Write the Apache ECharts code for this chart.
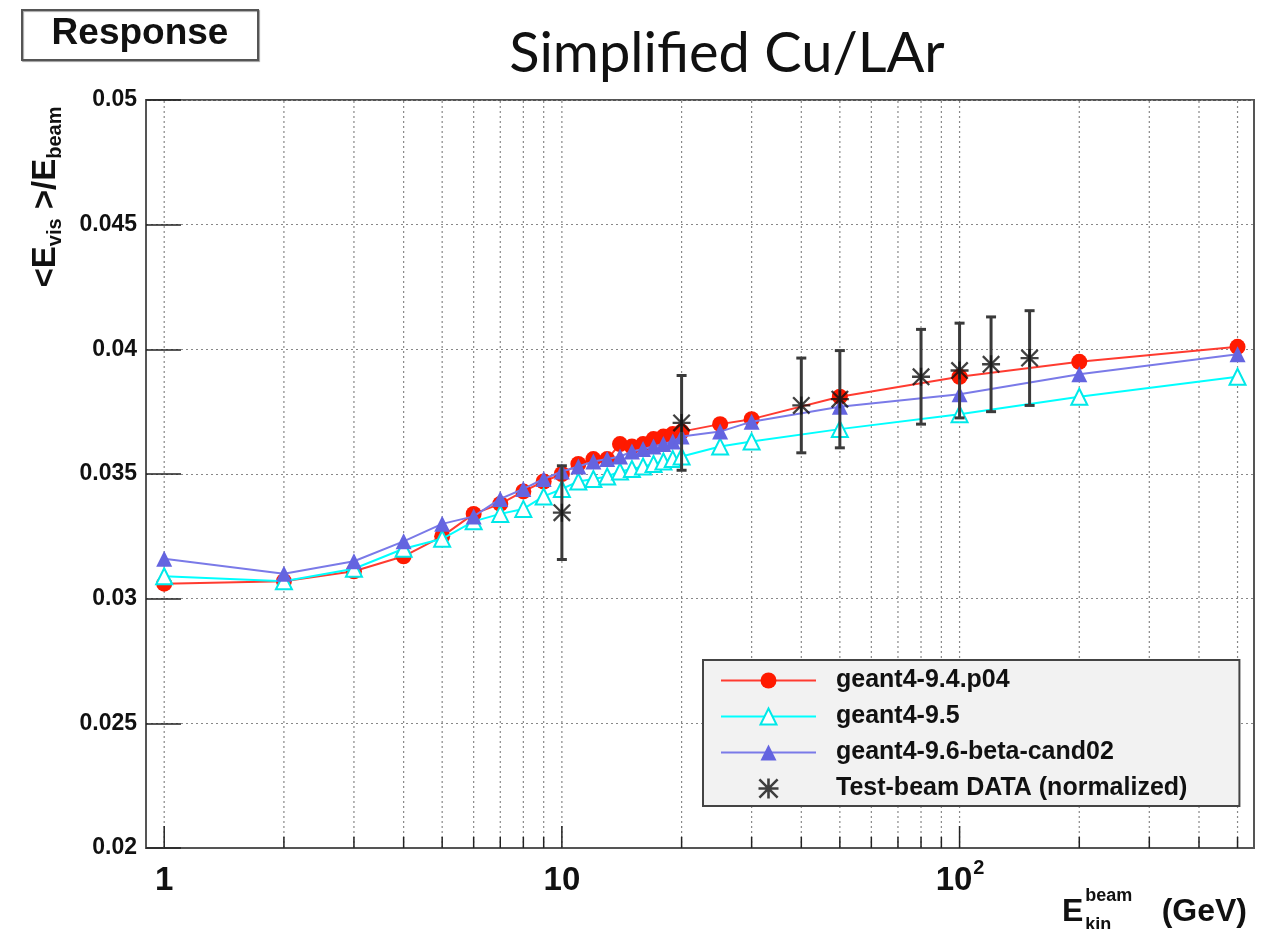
<!DOCTYPE html>
<html><head><meta charset="utf-8">
<script src="https://cdn.jsdelivr.net/npm/echarts@6/dist/echarts.min.js"></script>
<style>html,body{margin:0;padding:0;background:#fff}#c{width:1271px;height:929px}</style>
</head><body><div id="c"></div>
<script>
// ---- data ----
const ENERGIES = [1,2,3,4,5,6,7,8,9,10,11,12,13,14,15,16,17,18,19,20,25,30,50,100,200,500];
const G4_94 = [0.0306,0.0307,0.0311,0.0317,0.0325,0.0334,0.0338,0.0343,0.0347,0.0350,0.0354,0.0356,0.0356,0.0362,0.0361,0.0362,0.0364,0.0365,0.0366,0.0367,0.0370,0.0372,0.0381,0.0389,0.0395,0.0401];
const G4_95 = [0.0309,0.0307,0.0312,0.0320,0.0324,0.0331,0.0334,0.0336,0.0341,0.0344,0.0347,0.0348,0.0349,0.0351,0.0352,0.0353,0.0354,0.0355,0.0356,0.0357,0.0361,0.0363,0.0368,0.0374,0.0381,0.0389];
const G4_96 = [0.0316,0.0310,0.0315,0.0323,0.0330,0.0333,0.0340,0.0344,0.0348,0.0351,0.0353,0.0355,0.0356,0.0357,0.0359,0.0360,0.0361,0.0362,0.0363,0.0365,0.0367,0.0371,0.0377,0.0382,0.0390,0.0398];
const DATA_E = [10,20,40,50,80,100,120,150];
const DATA_V = [0.03345,0.03705,0.03775,0.0380,0.0389,0.03915,0.0394,0.03965];
const DATA_ERR = [0.00188,0.0019,0.0019,0.00195,0.0019,0.0019,0.0019,0.0019];
const SERIES_NAMES = ['geant4-9.4.p04','geant4-9.5','geant4-9.6-beta-cand02','Test-beam DATA (normalized)'];
const X_TICKS = [1,2,3,4,5,6,7,8,9,10,20,30,40,50,60,70,80,90,100,200,300,400,500];
const X_MAJOR = [1,10,100];
const X_LABEL_BASE = ['1','10','10'];
const X_LABEL_EXP = ['','','2'];
const X_MIN = 0.9, X_MAX = 550;
const Y_MIN = 0.02, Y_MAX = 0.05, Y_STEP = 0.005;

const FONT = '"Liberation Sans", Arial, Helvetica, sans-serif';
const STAR = 'path://M8.7,0L11.3,0L11.3,20L8.7,20Z M0,8.7L20,8.7L20,11.3L0,11.3Z M1.8,0L20,18.2L18.2,20L0,1.8Z M18.2,0L20,1.8L1.8,20L0,18.2Z M7,7L13,7L13,13L7,13Z';

function tw(text, font){
  const c = document.createElement('canvas').getContext('2d');
  c.font = font; return c.measureText(text).width;
}

const chart = echarts.init(document.getElementById('c'), null, {renderer:'canvas'});

// y-axis title pieces (rotated)
const MAINF = 33, SUBF = 20;
const yPieces = [['<E', MAINF], ['vis', SUBF], [' >/E', MAINF], ['beam', SUBF]];
let yChildren = [], acc = 0;
yPieces.forEach(([t, fs]) => {
  const sub = fs === SUBF;
  yChildren.push({type:'text', x: acc, y: sub ? 6 - 0.32*fs : -0.32*fs,
    style:{text:t, font:'bold '+fs+'px '+FONT, fill:'#111', textAlign:'left', textVerticalAlign:'middle', verticalAlign:'middle'}});
  acc += tw(t, 'bold '+fs+'px '+FONT);
});
const yTitleStart = 197 + acc/2;

// x-axis title
const eW = tw('E', 'bold 32px '+FONT);

const option = {
  animation: false,
  backgroundColor: '#fff',
  grid: {left:146, right:17, top:100, bottom:81, show:true, borderColor:'#555', borderWidth:2, backgroundColor:'#fff'},
  xAxis: {type:'log', logBase:10, min:X_MIN, max:X_MAX,
    axisLine:{show:true, lineStyle:{color:'#555', width:2}},
    axisTick:{show:false}, axisLabel:{show:false}, splitLine:{show:false}, minorTick:{show:false}},
  yAxis: {type:'value', min:Y_MIN, max:Y_MAX, interval:Y_STEP,
    axisLine:{show:true, lineStyle:{color:'#555', width:2}},
    axisTick:{show:true, inside:true, length:35, lineStyle:{color:'#222', width:1.5}},
    axisLabel:{fontFamily:FONT, fontWeight:'bold', fontSize:23, color:'#111', margin:9},
    splitLine:{show:true, lineStyle:{color:'#888', type:[2,3], width:1.2}}},
  legend: {orient:'vertical', left:703, top:660, data:SERIES_NAMES,
    itemWidth:95, itemHeight:20, itemGap:11, padding:[8,52,5,17],
    backgroundColor:'#f2f2f2', borderColor:'#444', borderWidth:2, selectedMode:false,
    textStyle:{fontFamily:FONT, fontWeight:'bold', fontSize:25, color:'#111', lineHeight:24, padding:[0,0,0,15]}},
  graphic: [
    {type:'rect', shape:{x:22, y:10, width:236, height:50}, style:{fill:'#fff', stroke:'#555', lineWidth:2, shadowColor:'rgba(0,0,0,0.35)', shadowOffsetX:1, shadowOffsetY:1, shadowBlur:1}, z:10},
    {type:'text', x:140, y:34, style:{text:'Response', font:'bold 37px '+FONT, fill:'#111', textAlign:'center', textVerticalAlign:'middle', verticalAlign:'middle'}, z:11},
    {type:'text', x:727, y:54, style:{text:'Simplified Cu/LAr', font:'56px Lato, "Open Sans", sans-serif', fill:'#111', textAlign:'center', textVerticalAlign:'middle', verticalAlign:'middle'}, z:11},
    {type:'group', x:56, y:yTitleStart, rotation:Math.PI/2, children:yChildren, z:11},
    {type:'text', x:1062, y:922 - 0.32*32, style:{text:'E', font:'bold 32px '+FONT, fill:'#111', textAlign:'left', textVerticalAlign:'middle', verticalAlign:'middle'}, z:11},
    {type:'text', x:1062+eW+2, y:902 - 0.32*18, style:{text:'beam', font:'bold 18px '+FONT, fill:'#111', textAlign:'left', textVerticalAlign:'middle', verticalAlign:'middle'}, z:11},
    {type:'text', x:1062+eW+2, y:931 - 0.32*18, style:{text:'kin', font:'bold 18px '+FONT, fill:'#111', textAlign:'left', textVerticalAlign:'middle', verticalAlign:'middle'}, z:11},
    {type:'text', x:1247, y:922 - 0.32*32, style:{text:'(GeV)', font:'bold 32px '+FONT, fill:'#111', textAlign:'right', textVerticalAlign:'middle', verticalAlign:'middle'}, z:11}
  ],
  series: [
    // x grid lines, ticks and labels
    {type:'custom', silent:true, clip:false, z:1,
      data: X_TICKS.map(v => [v, Y_MIN]),
      encode:{x:0, y:1},
      renderItem(params, api){
        const v = api.value(0);
        const pb = api.coord([v, Y_MIN]);
        const pt = api.coord([v, Y_MAX]);
        const mi = X_MAJOR.indexOf(v);
        const ch = [
          {type:'line', shape:{x1:pb[0], y1:pb[1], x2:pt[0], y2:pt[1]}, style:{stroke:'#888', lineWidth:1.2, lineDash:[2,3]}},
          {type:'line', shape:{x1:pb[0], y1:pb[1], x2:pb[0], y2:pb[1] - (mi >= 0 ? 22 : 11)}, style:{stroke:'#222', lineWidth:1.5}}
        ];
        if (mi >= 0) {
          const base = X_LABEL_BASE[mi], ex = X_LABEL_EXP[mi];
          if (!ex) {
            ch.push({type:'text', x:pb[0], y:881, style:{text:base, font:'bold 33px '+FONT, fill:'#111', textAlign:'center', textVerticalAlign:'middle', verticalAlign:'middle'}});
          } else {
            const bw = tw(base, 'bold 33px '+FONT), ew = tw(ex, 'bold 20px '+FONT);
            const x0 = pb[0] - (bw + ew)/2;
            ch.push({type:'text', x:x0, y:881, style:{text:base, font:'bold 33px '+FONT, fill:'#111', textAlign:'left', textVerticalAlign:'middle', verticalAlign:'middle'}});
            ch.push({type:'text', x:x0 + bw + 1, y:868, style:{text:ex, font:'bold 20px '+FONT, fill:'#111', textAlign:'left', textVerticalAlign:'middle', verticalAlign:'middle'}});
          }
        }
        return {type:'group', children:ch};
      }
    },
    {name:SERIES_NAMES[0], type:'line', data:ENERGIES.map((e,i)=>[e, G4_94[i]]), symbol:'circle', symbolSize:16, showAllSymbol:true,
      color:'#ff1a00', lineStyle:{color:'#ff3b30', width:2}, itemStyle:{color:'#ff1a00'}, z:3},
    {name:SERIES_NAMES[1], type:'line', data:ENERGIES.map((e,i)=>[e, G4_95[i]]), symbol:'triangle', symbolSize:16, showAllSymbol:true,
      color:'#00f0f0', lineStyle:{color:'#00ffff', width:2}, itemStyle:{color:'#ffffff', borderColor:'#00e8e8', borderWidth:2}, z:4},
    {name:SERIES_NAMES[2], type:'line', data:ENERGIES.map((e,i)=>[e, G4_96[i]]), symbol:'triangle', symbolSize:16, showAllSymbol:true,
      color:'#6464e0', lineStyle:{color:'#7a7ae8', width:2}, itemStyle:{color:'#6464e0'}, z:5},
    {type:'custom', silent:true, z:6,
      data: DATA_E.map((e,i)=>[e, DATA_V[i]-DATA_ERR[i], DATA_V[i]+DATA_ERR[i]]),
      encode:{x:0, y:[1,2]},
      renderItem(params, api){
        const e = api.value(0);
        const lo = api.coord([e, api.value(1)]);
        const hi = api.coord([e, api.value(2)]);
        const st = {stroke:'#3a3a3a', lineWidth:3};
        return {type:'group', children:[
          {type:'line', shape:{x1:lo[0], y1:lo[1], x2:hi[0], y2:hi[1]}, style:st},
          {type:'line', shape:{x1:lo[0]-5, y1:lo[1], x2:lo[0]+5, y2:lo[1]}, style:st},
          {type:'line', shape:{x1:hi[0]-5, y1:hi[1], x2:hi[0]+5, y2:hi[1]}, style:st}
        ]};
      }
    },
    {name:SERIES_NAMES[3], type:'scatter', data:DATA_E.map((e,i)=>[e, DATA_V[i]]), symbol:STAR, symbolSize:18,
      itemStyle:{color:'#111'}, z:7}
  ]
};
chart.setOption(option);
</script></body></html>
